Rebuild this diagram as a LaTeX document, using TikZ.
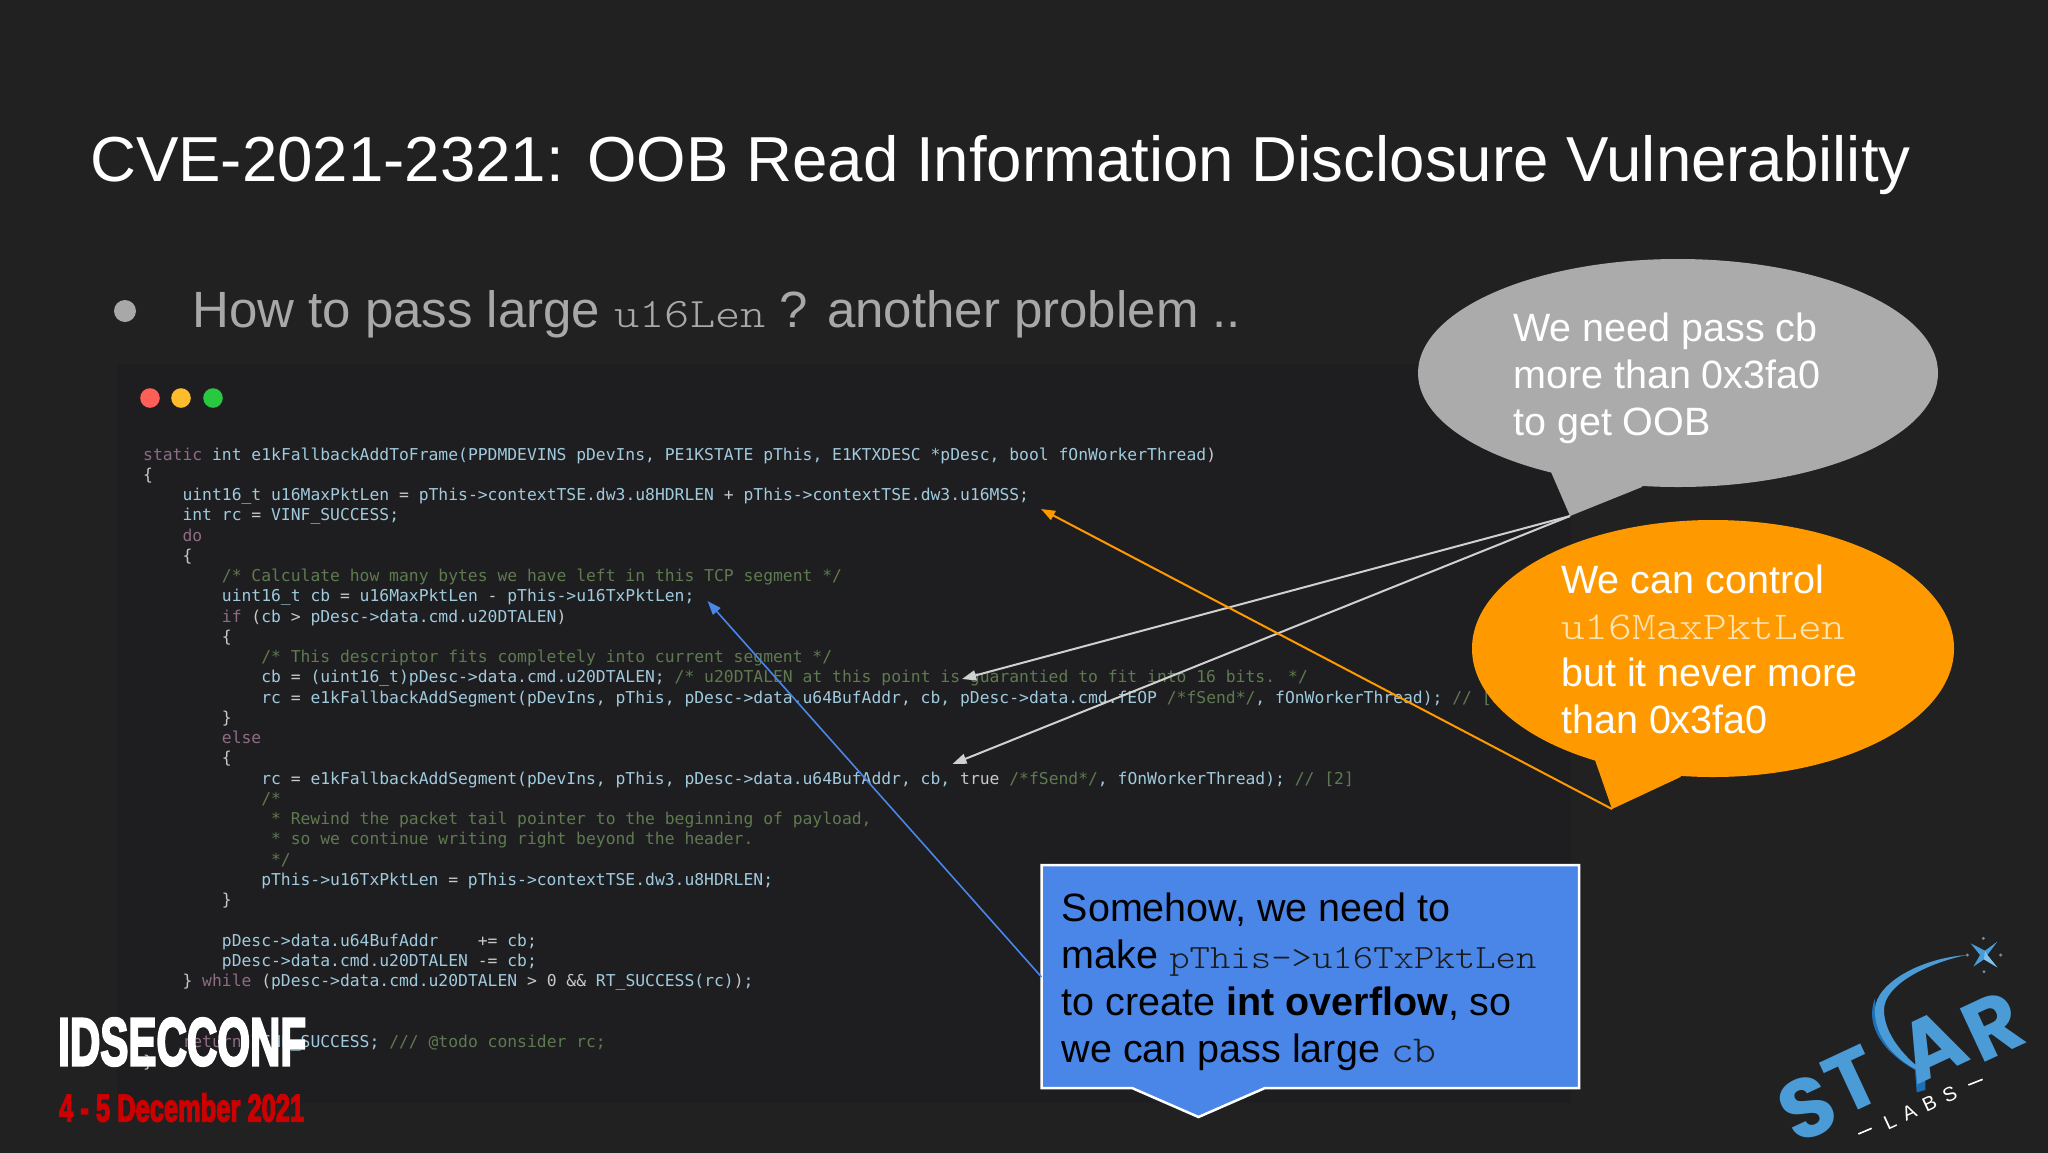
\documentclass[tikz,border=0pt]{standalone}
\usepackage{fontspec}
\usepackage{graphicx}
\usetikzlibrary{arrows.meta}
\setmainfont{Liberation Sans}
\newfontfamily\codefont{DejaVu Sans Mono}
\newfontfamily\courfont{Latin Modern Mono Light}[FakeStretch=1.143]
\newfontfamily\logofont{Liberation Sans}[BoldFont={Liberation Sans Bold},BoldFeatures={FakeBold=4}]
\newfontfamily\starfont{Poppins}
\definecolor{bg}{HTML}{212122}
\definecolor{panel}{HTML}{1E1E20}
\definecolor{idc}{HTML}{A0CADD}
\definecolor{kwc}{HTML}{8E6C86}
\definecolor{cmc}{HTML}{5F7A50}
\definecolor{opc}{HTML}{C8C8C8}
\definecolor{greyb}{HTML}{ABABAB}
\definecolor{orangeb}{HTML}{FF9900}
\definecolor{blueb}{HTML}{4A86E8}
\definecolor{bulletc}{HTML}{A8A8A8}
\definecolor{greyline}{HTML}{D0D0D0}
\definecolor{starblue}{HTML}{4A9BD6}
\definecolor{stardark}{HTML}{1F6FB5}
\definecolor{starlight}{HTML}{7FC2EE}
\definecolor{stardot}{HTML}{7A8C9A}
\definecolor{lightred}{HTML}{FF5F57}
\definecolor{lightyellow}{HTML}{FDBC2C}
\definecolor{lightgreen}{HTML}{28C840}
\definecolor{confred}{HTML}{CC0000}
\definecolor{inkdark}{HTML}{1A1A1A}
\definecolor{monoorange}{HTML}{FCE3B4}
\newcommand{\K}[1]{\textcolor{kwc}{#1}}
\newcommand{\C}[1]{\textcolor{cmc}{#1}}
\newcommand{\W}[1]{\textcolor{opc}{#1}}
\newcommand{\codeline}[3]{\node[codetxt] (code#1) at ({143+9.84*#2},{460+20.25*#1}) {#3};}
\tikzset{
  codetxt/.style={anchor=base west,inner sep=0pt,text=idc,font=\codefont\fontsize{16.35}{20}\selectfont},
  bubtext/.style={anchor=base west,inner sep=0pt,text=white},
  arrowline/.style={-{Triangle[length=14pt,width=10pt]},line width=#1},
  starletter/.style={inner sep=0pt,rotate=25,text=starblue,font=\starfont\bfseries\fontsize{84}{86}\selectfont},
}
\begin{document}
\begin{tikzpicture}[x=1pt,y=-1pt]
\useasboundingbox (0,0) rectangle (2048,1152);
\fill[bg] (-2,-2) rectangle (2050,1154);
% title
\node[anchor=base west,inner sep=0pt,text=white,font=\fontsize{63.6}{70}\selectfont] (title) at (90,181) {CVE-2021-2321: OOB Read Information Disclosure Vulnerability};
% bullet
\fill[bulletc] (125,311) circle (11);
\node[anchor=base west,inner sep=0pt,text=bulletc,font=\fontsize{51}{60}\selectfont] (head) at (192,327) {How to pass large {\courfont\fontsize{42}{50}\selectfont u16Len} ? another problem ..};
% code panel
\fill[panel] (117,364) rectangle (1571,1103);
\fill[lightred] (150,398) circle (9.8);
\fill[lightyellow] (181,398) circle (9.8);
\fill[lightgreen] (213,398) circle (9.8);
\codeline{0}{0}{\K{static} int e1kFallbackAddToFrame(PPDMDEVINS pDevIns, PE1KSTATE pThis, E1KTXDESC *pDesc, bool fOnWorkerThread\W{)}}
\codeline{1}{0}{\W{\{}}
\codeline{2}{4}{uint16\_t u16MaxPktLen \W{=} pThis->contextTSE.dw3.u8HDRLEN \W{+} pThis->contextTSE.dw3.u16MSS;}
\codeline{3}{4}{int rc \W{=} VINF\_SUCCESS;}
\codeline{4}{4}{\K{do}}
\codeline{5}{4}{\W{\{}}
\codeline{6}{8}{\C{/* Calculate how many bytes we have left in this TCP segment */}}
\codeline{7}{8}{uint16\_t cb \W{=} u16MaxPktLen \W{-} pThis->u16TxPktLen;}
\codeline{8}{8}{\K{if} \W{(}cb \W{>} pDesc->data.cmd.u20DTALEN\W{)}}
\codeline{9}{8}{\W{\{}}
\codeline{10}{12}{\C{/* This descriptor fits completely into current segment */}}
\codeline{11}{12}{cb \W{=} (uint16\_t)pDesc->data.cmd.u20DTALEN; \C{/* u20DTALEN at this point is guarantied to fit into 16 bits. */}}
\codeline{12}{12}{rc \W{=} e1kFallbackAddSegment(pDevIns, pThis, pDesc->data.u64BufAddr, cb, pDesc->data.cmd.fEOP \C{/*fSend*/}, fOnWorkerThread); \C{// [1]}}
\codeline{13}{8}{\W{\}}}
\codeline{14}{8}{\K{else}}
\codeline{15}{8}{\W{\{}}
\codeline{16}{12}{rc \W{=} e1kFallbackAddSegment(pDevIns, pThis, pDesc->data.u64BufAddr, cb, \W{true} \C{/*fSend*/}, fOnWorkerThread); \C{// [2]}}
\codeline{17}{12}{\C{/*}}
\codeline{18}{12}{\C{\ * Rewind the packet tail pointer to the beginning of payload,}}
\codeline{19}{12}{\C{\ * so we continue writing right beyond the header.}}
\codeline{20}{12}{\C{\ */}}
\codeline{21}{12}{pThis->u16TxPktLen \W{=} pThis->contextTSE.dw3.u8HDRLEN;}
\codeline{22}{8}{\W{\}}}
\codeline{24}{8}{pDesc->data.u64BufAddr\ \ \ \ \W{+=} cb;}
\codeline{25}{8}{pDesc->data.cmd.u20DTALEN \W{-=} cb;}
\codeline{26}{4}{\W{\}} \K{while} \W{(}pDesc->data.cmd.u20DTALEN \W{>} \W{0} \W{\&\&} RT\_SUCCESS(rc)\W{)};}
\codeline{29}{4}{\K{return} VINF\_SUCCESS; \C{/// @todo consider rc;}}
\codeline{30}{0}{\W{\}}}
% named ends of connectors
\coordinate (greytip) at (1570,516);
\coordinate (orangetip) at (1612,809);
\coordinate (blueedge) at (1041.5,977);
\coordinate (t1) at (962,679);
\coordinate (t2) at (952.5,764);
\coordinate (t3) at (1041,509);
\coordinate (t4) at (707.5,601);
% grey bubble
\fill[greyb] (1678,373) ellipse [x radius=260,y radius=114];
\fill[greyb] (1551,472) -- (greytip) -- (1642,487) -- (1660,440) -- (1560,440) -- cycle;
\node[bubtext] (greytext) at (1513,341) {\parbox[t]{400pt}{\fontsize{39.5}{47}\selectfont We need pass cb\\more than 0x3fa0\\to get OOB}};
% orange bubble
\fill[orangeb] (1713,648.5) ellipse [x radius=241,y radius=128.5];
\fill[orangeb] (1595,760) -- (orangetip) -- (1680.5,777) -- (1700,720) -- (1600,720) -- cycle;
\node[bubtext] (orangetext) at (1561,593) {\parbox[t]{400pt}{\fontsize{39.5}{46.9}\selectfont We can control\\{\courfont\color{monoorange} u16MaxPktLen}\\but it never more\\than 0x3fa0}};
% blue box
\draw[white,line width=2.5pt,fill=blueb,line join=miter] (1041.5,865) -- (1579,865) -- (1579,1088) -- (1265,1088) -- (1198.5,1117) -- (1132,1088) -- (1041.5,1088) -- cycle;
\node[bubtext,text=black] (bluetext) at (1061.5,921) {\parbox[t]{510pt}{\fontsize{39.5}{47}\selectfont Somehow, we need to\\make {\courfont\fontsize{34}{47}\selectfont\color{inkdark} pThis->u16TxPktLen}\\to create \textbf{int overflow}, so\\we can pass large {\courfont\fontsize{38}{47}\selectfont\color{inkdark} cb}}};
% connectors
\draw[arrowline=2pt,greyline] (greytip) -- (t1);
\draw[arrowline=2pt,greyline] (greytip) -- (t2);
\draw[arrowline=2pt,orangeb] (orangetip) -- (t3);
\draw[arrowline=1.6pt,blueb] (blueedge) -- (t4);
% conference logo
\node[anchor=south west,inner sep=0pt,text=white] (conf) at (58,1066) {\resizebox{248pt}{47pt}{\logofont\bfseries IDSECCONF}};
\node[anchor=south west,inner sep=0pt,text=confred] (date) at (59,1122) {\resizebox{245pt}{28pt}{\logofont\bfseries 4 - 5 December 2021}};
% star labs logo
\begin{scope}[shift={(1760,920)},x=0.3333pt,y=-0.3333pt]
\fill[stardark] (345,235) .. controls (320,300) and (345,380) .. (465,450) -- (470,517) -- (496,510) -- (496,445) .. controls (400,410) and (345,340) .. (345,235) -- cycle;
\node[starletter] (ls) at (142,562) {S};
\node[starletter] (lt) at (278,480) {T};
\node[starletter] (la) at (515,378) {A};
\node[starletter] (lr) at (700,318) {R};
\fill[starblue] (620,105) .. controls (480,115) and (350,190) .. (345,265) .. controls (340,350) and (410,430) .. (500,462) .. controls (430,410) and (372,340) .. (372,270) .. controls (372,195) and (500,130) .. (620,105) -- cycle;
\fill[starblue] (712,65) -- (682,105) -- (712,142) -- (672,118) -- (640,140) -- (660,105) -- (632,70) -- (675,92) -- cycle;
\fill[starlight] (675,92) -- (682,105) -- (712,142) -- (672,118) -- cycle;
\foreach \a/\b in {670/55,722/105,672/155,622/105} \fill[stardot] (\a,\b) circle (5);
\node[inner sep=0pt,rotate=25,text=white,font=\fontsize{20}{22}\selectfont] (labs) at (481,563) {L\hspace{9pt}A\hspace{9pt}B\hspace{9pt}S};
\coordinate (d1a) at (295,642); \coordinate (d1b) at (335,625);
\coordinate (d2a) at (625,495); \coordinate (d2b) at (668,478);
\draw[white,line width=1.6pt] (d1a) -- (d1b);
\draw[white,line width=1.6pt] (d2a) -- (d2b);
\end{scope}
\end{tikzpicture}
\end{document}
